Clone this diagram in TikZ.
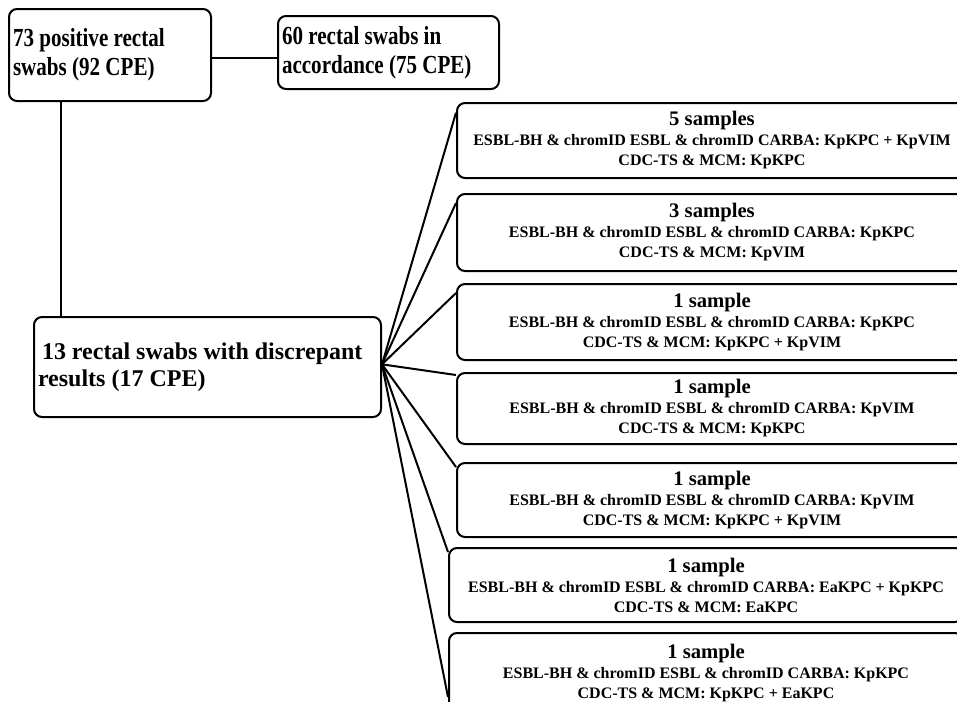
\documentclass[tikz,border=0pt]{standalone}
\usepackage{fontspec}
\setmainfont{Liberation Serif}
\newfontfamily\narrowfont[FakeStretch=0.81]{Liberation Serif}
\begin{document}
\begin{tikzpicture}[x=0.75pt,y=-0.75pt,line width=1.5pt,
		bigbox/.style={draw,rounded corners=6pt,anchor=north west,inner sep=3pt,align=flush left,font=\narrowfont\bfseries\fontsize{19.5}{21.75}\selectfont},
		sbox/.style={draw,rounded corners=6pt,anchor=north west,inner sep=2pt,align=center,minimum width=382.5pt,font=\bfseries\fontsize{12}{15}\selectfont}]
		\useasboundingbox (0,0) rectangle (957,701);
		\clip (0,0) rectangle (957,701);
		% left column
		\node[bigbox,minimum width=151.5pt,minimum height=69pt,text width=145.5pt] (pos) at (8,8) {73 positive rectal\\swabs (92 CPE)};
		\node[bigbox,minimum width=165.75pt,minimum height=54.75pt,text width=159.75pt] (acc) at (277,15) {60 rectal swabs in\\accordance (75 CPE)};
		\node[bigbox,minimum width=260.25pt,minimum height=75pt,text width=254.25pt,font=\bfseries\fontsize{18}{20.25}\selectfont] (disc) at (33,316) {\,13 rectal swabs with discrepant\\results (17 CPE)};
		% samples
		\node[sbox,minimum height=56.25pt] (s1) at (456,102) {{\fontsize{15.5}{15}\selectfont 5 samples}\\ESBL-BH \& chromID ESBL \& chromID CARBA: KpKPC + KpVIM\\CDC-TS \& MCM: KpKPC};
		\node[sbox,minimum height=57.75pt] (s2) at (456,193) {{\fontsize{15.5}{15}\selectfont 3 samples}\\ESBL-BH \& chromID ESBL \& chromID CARBA: KpKPC\\CDC-TS \& MCM: KpVIM};
		\node[sbox,minimum height=57pt] (s3) at (456,283) {{\fontsize{15.5}{15}\selectfont 1 sample}\\ESBL-BH \& chromID ESBL \& chromID CARBA: KpKPC\\CDC-TS \& MCM: KpKPC + KpVIM};
		\node[sbox,minimum height=53.25pt] (s4) at (456,372) {{\fontsize{15.5}{15}\selectfont 1 sample}\\ESBL-BH \& chromID ESBL \& chromID CARBA: KpVIM\\CDC-TS \& MCM: KpKPC};
		\node[sbox,minimum height=55.5pt] (s5) at (456,462) {{\fontsize{15.5}{15}\selectfont 1 sample}\\ESBL-BH \& chromID ESBL \& chromID CARBA: KpVIM\\CDC-TS \& MCM: KpKPC + KpVIM};
		\node[sbox,minimum height=55.5pt,minimum width=385.5pt] (s6) at (448,547) {{\fontsize{15.5}{15}\selectfont 1 sample}\\ESBL-BH \& chromID ESBL \& chromID CARBA: EaKPC + KpKPC\\CDC-TS \& MCM: EaKPC};
		\node[sbox,minimum height=60pt,minimum width=385.5pt] (s7) at (448,632) {{\fontsize{15.5}{15}\selectfont 1 sample}\\ESBL-BH \& chromID ESBL \& chromID CARBA: KpKPC\\CDC-TS \& MCM: KpKPC + EaKPC};
		% connectors
		\draw (pos.east |- 0,58) -- (acc.west |- 0,58);
		\draw ([xshift=39.75pt]pos.south west) -- ([xshift=39.75pt]pos.south west |- disc.north);
		\foreach \s/\d in {s1/8,s2/7.5,s3/7.5,s4/2.25,s5/3.75,s6/3.75,s7/48.75}
		\draw ([yshift=2pt]disc.east) -- ([yshift=-\d pt]\s.north west);
	\end{tikzpicture}
\end{document}
